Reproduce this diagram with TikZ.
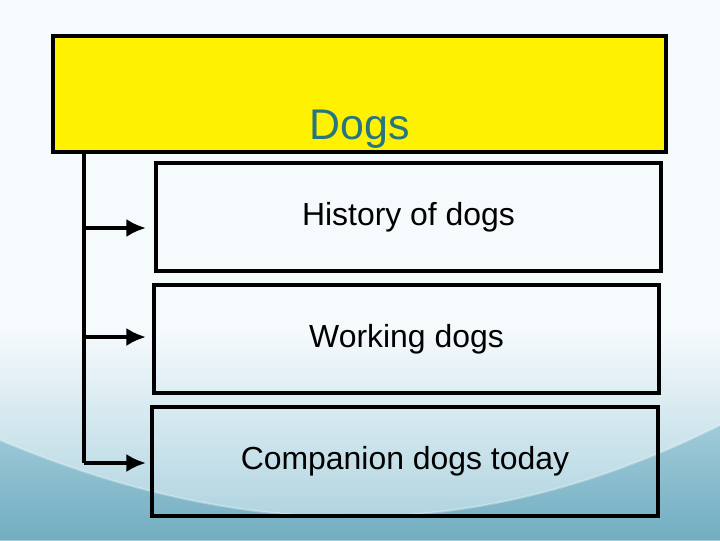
\documentclass[tikz,border=0pt]{standalone}
\usepackage{fontspec}
\setmainfont{Liberation Sans}
\usetikzlibrary{arrows.meta}
\definecolor{dogteal}{RGB}{38,118,128}
\definecolor{bgtop}{RGB}{245,250,252}
\definecolor{bgmid}{RGB}{168,208,221}
\definecolor{bgbot}{RGB}{112,172,192}
\tikzset{
  headbox/.style={draw=black,line width=3pt,fill=yellow,minimum width=15.325cm,minimum height=2.9cm},
  topicbox/.style={draw=black,line width=2.6pt,minimum width=12.625cm,minimum height=2.7cm,
    font=\fontsize{22.7}{26}\selectfont},
  branch/.style={line width=2.8pt},
  pointer/.style={line width=2.8pt,-{Latex[length=14pt,width=13pt]}}
}
\begin{document}
\begin{tikzpicture}[x=0.025cm,y=-0.025cm]
  \useasboundingbox (0,0) rectangle (720,540);
  % fond
  \fill[bgtop] (0,0) rectangle (720,540);
  \shade[top color=bgtop,bottom color=bgmid] (0,330) rectangle (720,540);
  \shade[top color=bgmid!85!bgbot,bottom color=bgbot] (0,440) .. controls (250,545) and (480,545) .. (720,425) -- (720,540) -- (0,540) -- cycle;
  \draw[white,opacity=0.3,line width=1.5pt] (0,440) .. controls (250,545) and (480,545) .. (720,425);
  % boites
  \node[headbox] (dogs) at (359.5,94) {};
  \node[anchor=base,text=dogteal,font=\fontsize{30.5}{34}\selectfont] (dogslabel) at (360,139) {Dogs};
  \node[topicbox] (hist) at (408.5,217) {History of dogs};
  \node[topicbox] (work) at (406.5,339) {Working dogs};
  \node[topicbox,minimum width=12.65cm,minimum height=2.725cm] (comp) at (405,461.5) {Companion dogs today};
  % fleches
  \coordinate (trunk) at (84,152);
  \coordinate (t1) at (84,228);
  \coordinate (t2) at (84,337);
  \coordinate (t3) at (84,463);
  \draw[branch] (trunk)--(t3);
  \draw[pointer] (t1)--(146,228);
  \draw[pointer] (t2)--(146,337);
  \draw[pointer] (t3)--(146,463);
\end{tikzpicture}
\end{document}
